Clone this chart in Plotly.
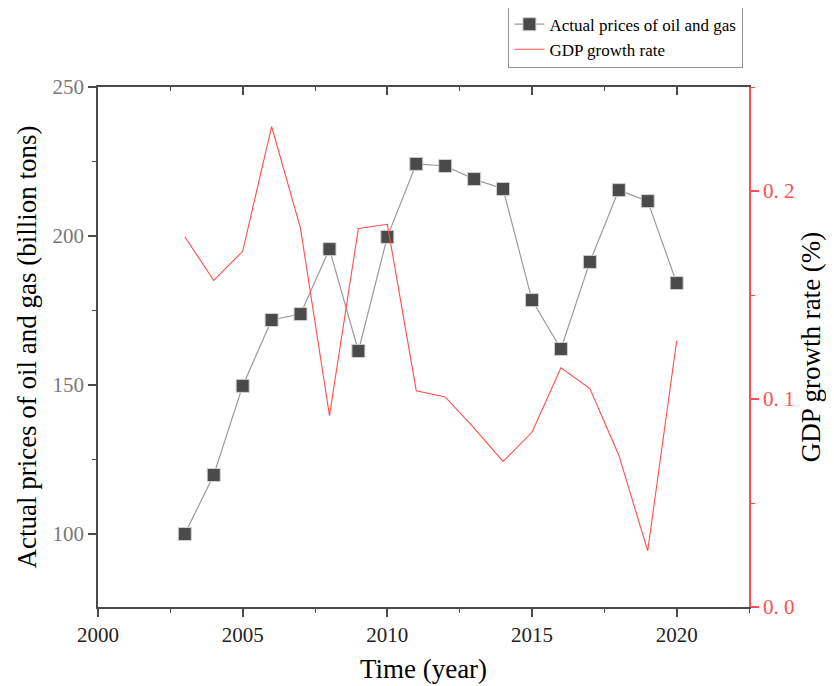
import plotly.graph_objects as go

years = list(range(2003, 2021))
prices = [100.0, 119.8, 149.7, 171.8, 173.8, 195.6, 161.4, 199.7, 224.2, 223.5,
          219.1, 215.8, 178.5, 162.1, 191.3, 215.4, 211.7, 184.2]
gdp = [0.178, 0.157, 0.171, 0.231, 0.182, 0.092, 0.182, 0.184, 0.104, 0.101,
       0.086, 0.070, 0.084, 0.115, 0.105, 0.073, 0.027, 0.128]

x_ticks = [2000, 2005, 2010, 2015, 2020]
y_ticks = [100, 150, 200, 250]
y2_ticks = [0.0, 0.1, 0.2]
y2_labels = ["0. 0", "0. 1", "0. 2"]

SERIF = "Liberation Serif"
RED = "#ff4d4d"
AX = "#4a4a4a"

fig = go.Figure()
fig.add_trace(go.Scatter(
    x=years, y=prices, name="Actual prices of oil and gas",
    mode="lines+markers",
    line=dict(color="#9a9a9a", width=1.2),
    marker=dict(symbol="square", size=13, color="#4a4a4a",
                line=dict(color="#d0d0d0", width=1)),
    yaxis="y", xaxis="x"))
fig.add_trace(go.Scatter(
    x=years, y=gdp, name="GDP growth rate",
    mode="lines", line=dict(color=RED, width=1.1),
    yaxis="y2", xaxis="x"))
fig.add_trace(go.Scatter(x=[None], y=[None], xaxis="x2", showlegend=False,
                         hoverinfo="skip"))

fig.update_layout(
    width=834, height=686,
    margin=dict(l=90, r=93, t=79, b=87, autoexpand=False),
    paper_bgcolor="white", plot_bgcolor="white",
    font=dict(family=SERIF, color="black"),
    showlegend=True,
    legend=dict(x=0.63, y=1.157, xanchor="left", yanchor="top",
                bordercolor="#909090", borderwidth=1.3,
                font=dict(family=SERIF, size=17, color="black"),
                tracegroupgap=0, itemwidth=30, bgcolor="white"),
    xaxis=dict(range=[2000, 2022.5], tickvals=x_ticks,
               showgrid=False, zeroline=False,
               showline=True, linecolor=AX, linewidth=1.6,
               ticks="outside", ticklen=8, tickwidth=1.5, tickcolor=AX,
               minor=dict(dtick=2.5, tick0=2000, ticks="outside", ticklen=4,
                          tickwidth=1.2, tickcolor=AX),
               tickfont=dict(family=SERIF, size=21, color="#222222"),
               title=dict(text="Time (year)", font=dict(family=SERIF, size=27),
                          standoff=13)),
    xaxis2=dict(range=[2000, 2022.5], overlaying="x", side="top",
                tickvals=x_ticks, showticklabels=False,
                showgrid=False, zeroline=False,
                showline=True, linecolor=AX, linewidth=1.6,
                ticks="inside", ticklen=8, tickwidth=1.5, tickcolor=AX,
                minor=dict(dtick=2.5, tick0=2000, ticks="inside", ticklen=4,
                           tickwidth=1.2, tickcolor=AX)),
    yaxis=dict(range=[75.5, 250], tickvals=y_ticks,
               showgrid=False, zeroline=False,
               showline=True, linecolor=AX, linewidth=1.6,
               ticks="outside", ticklen=8, tickwidth=1.5, tickcolor=AX,
               minor=dict(tickvals=[125, 175, 225], ticks="outside", ticklen=4,
                          tickwidth=1.2, tickcolor=AX),
               tickfont=dict(family=SERIF, size=21, color="#777777"),
               title=dict(text="Actual prices of oil and gas (billion tons)",
                          font=dict(family=SERIF, size=27), standoff=8)),
    yaxis2=dict(range=[0, 0.25], overlaying="y", side="right",
                tickvals=y2_ticks, ticktext=y2_labels,
                showgrid=False, zeroline=False,
                showline=True, linecolor=RED, linewidth=1.6,
                ticks="outside", ticklen=8, tickwidth=1.5, tickcolor=RED,
                minor=dict(tickvals=[0.05, 0.15, 0.25], ticks="outside", ticklen=4,
                           tickwidth=1.2, tickcolor=RED),
                tickfont=dict(family=SERIF, size=21, color=RED),
                title=dict(text="GDP growth rate (%)",
                           font=dict(family=SERIF, size=27, color="black"),
                           standoff=8)),
)

fig.write_html("out.html")
